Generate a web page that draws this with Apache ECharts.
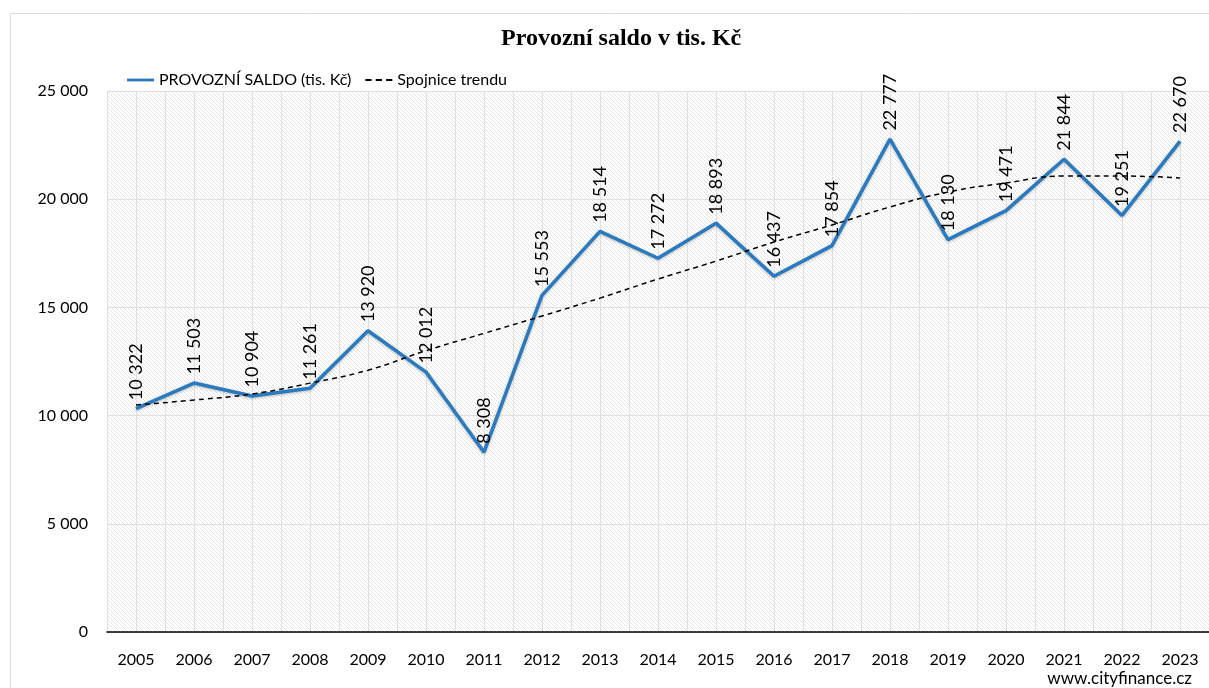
<!DOCTYPE html>
<html>
<head>
<meta charset="utf-8">
<script src="https://cdn.jsdelivr.net/npm/echarts@6/dist/echarts.min.js"></script>
<style>
html,body{margin:0;padding:0;background:#fff;}
#chart{width:1209px;height:688px;}
</style>
</head>
<body>
<div id="chart"></div>
<script>
const years = ['2005','2006','2007','2008','2009','2010','2011','2012','2013','2014','2015','2016','2017','2018','2019','2020','2021','2022','2023'];
const saldo = [10322, 11503, 10904, 11261, 13920, 12012, 8308, 15553, 18514, 17272, 18893, 16437, 17854, 22777, 18130, 19471, 21844, 19251, 22670];
const trend = [10490, 10720, 11000, 11500, 12100, 13000, 13800, 14600, 15430, 16310, 17140, 18020, 18810, 19640, 20330, 20750, 21070, 21070, 20980];
const yTicks = [0, 5000, 10000, 15000, 20000, 25000];

function fmt(v){ return String(v).replace(/\B(?=(\d{3})+(?!\d))/g, ' '); }

const pc = document.createElement('canvas');
pc.width = 4; pc.height = 4;
const ctx = pc.getContext('2d');
ctx.fillStyle = '#ffffff'; ctx.fillRect(0,0,4,4);
ctx.strokeStyle = '#e6e6e6'; ctx.lineWidth = 1;
ctx.beginPath();
for (let k=-4;k<=8;k+=4){ ctx.moveTo(k,0); ctx.lineTo(k+4,4); }
ctx.stroke();

const font = 'Lato, "Open Sans", sans-serif';
const chart = echarts.init(document.getElementById('chart'));
chart.setOption({
  animation:false,
  backgroundColor:'#ffffff',
  title:{text:'Provozní saldo v tis. Kč', left:496, top:22,
    textStyle:{fontFamily:'"Liberation Serif", "DejaVu Serif", serif', fontWeight:'bold', fontSize:24, color:'#000'}},
  legend:{left:122, top:67, itemWidth:27, itemHeight:3, itemGap:14,
    textStyle:{fontFamily:font, fontSize:16, color:'#000'},
    data:[
      {name:'PROVOZNÍ SALDO (tis. Kč)', icon:'path://M0,0L29,0L29,3L0,3Z', itemStyle:{color:'#2a7abf', opacity:1}},
      {name:'Spojnice trendu', icon:'path://M0,0h6v2h-6z M10,0h6v2h-6z M20,0h6v2h-6z', itemStyle:{color:'#000', opacity:1}}
    ]},
  graphic:[
    {type:'rect', shape:{x:10.5,y:13.5,width:1300,height:800}, style:{fill:null, stroke:'#d9d9d9', lineWidth:1}, z:-10, silent:true},
    {type:'text', right:17, bottom:1, style:{text:'www.cityfinance.cz', font:'17px Lato, "Open Sans", sans-serif', fill:'#000'}}
  ],
  grid:{left:107, top:91, bottom:56, right:-13, show:true, borderWidth:0,
    backgroundColor:{image:pc, repeat:'repeat'}},
  xAxis:[{
    type:'category', data:years, boundaryGap:true,
    axisLine:{lineStyle:{color:'#000', width:1.5}},
    axisTick:{show:false},
    axisLabel:{fontFamily:font, fontSize:16, color:'#000', margin:20},
    splitLine:{show:false}
  },{
    type:'value', min:-0.5, max:18.5, interval:0.5, show:true, position:'top',
    axisLine:{show:false}, axisTick:{show:false}, axisLabel:{show:false},
    splitLine:{show:true, lineStyle:{color:'#e0e0e0', width:1}}
  }],
  yAxis:{
    type:'value', min:0, max:25000, interval:5000,
    axisLine:{show:false}, axisTick:{show:false},
    axisLabel:{fontFamily:font, fontSize:16, color:'#000', margin:19, formatter:v=>fmt(v)},
    splitLine:{show:true, lineStyle:{color:'#e0e0e0', width:1}}
  },
  series:[
    {name:'PROVOZNÍ SALDO (tis. Kč)', type:'line', data:saldo, symbol:'circle', symbolSize:1, showSymbol:true, z:3,
     lineStyle:{color:'#2a7abf', width:3.5, shadowColor:'rgba(0,0,0,0.25)', shadowBlur:3, shadowOffsetY:1},
     itemStyle:{color:'#2a7abf', opacity:0},
     labelLayout:{hideOverlap:false},
     label:{show:true, position:'top', rotate:90, align:'left', verticalAlign:'middle', distance:8,
       fontFamily:font, fontSize:18, color:'#000', opacity:1, formatter:p=>fmt(p.value)}},
    {name:'Spojnice trendu', type:'line', data:trend, symbol:'none', smooth:true, z:4,
     lineStyle:{color:'#000', width:1.5, type:[5,4]}, itemStyle:{color:'#000'}}
  ]
});
</script>
</body>
</html>
